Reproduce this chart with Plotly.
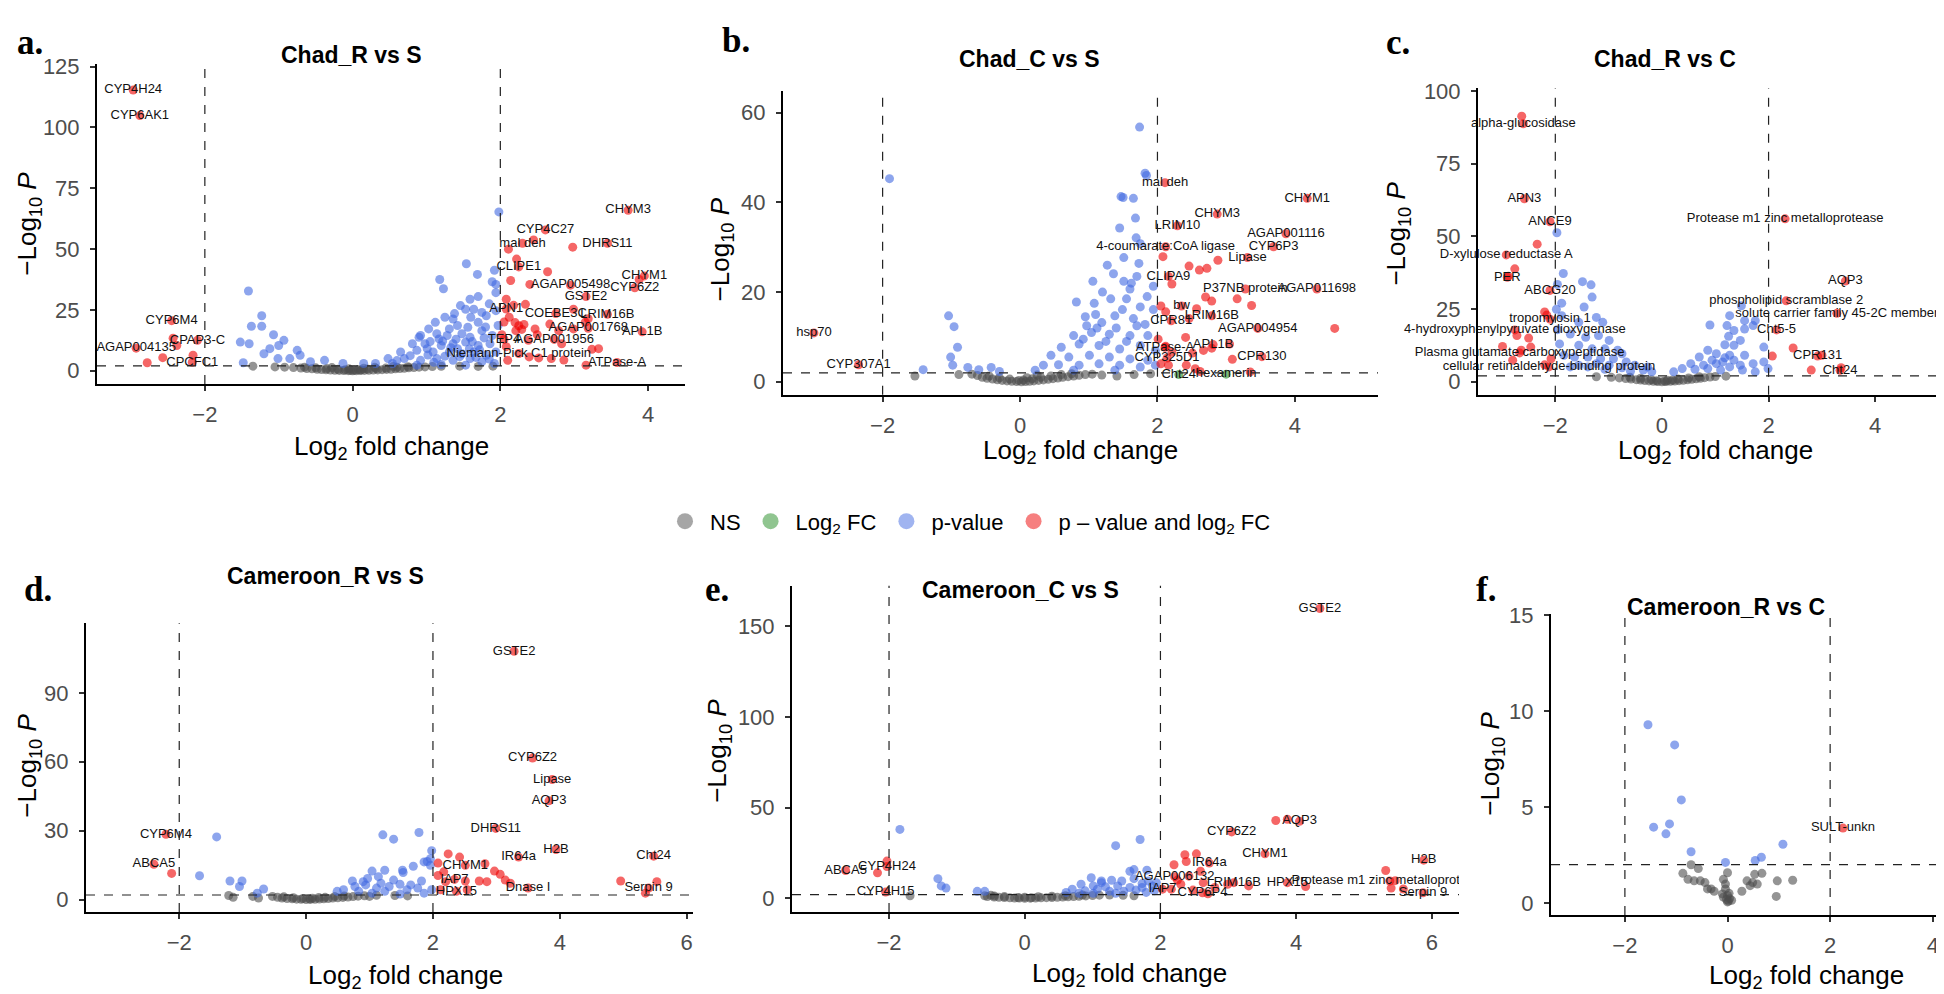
import plotly.graph_objects as go

W, H = 1944, 994
FC_CUT = 2.0   # |log2 fold change| cutoff
P_CUT = 2.0    # -log10 p cutoff

# ---------------- Panel a : Chad_R vs S ----------------
A_GENE = ["CYP4H24", "CYP6AK1", "CYP6M4", "CPAP3-C", "AGAP004135", "CPCFC1", "CHYM3", "CYP4C27",
          "mal deh", "DHRS11", "CLIPE1", "AGAP005498", "CYP6Z2", "CHYM1", "GSTE2", "APN1", "COEBE3C",
          "LRIM16B", "AGAP001768", "APL1B", "TEP4", "AGAP001956", "Niemann-Pick C1 protein", "ATPase-A"]
A_GENE_X = [-2.97, -2.88, -2.45, -2.10, -2.93, -2.17, 3.73, 2.61, 2.30, 3.45, 2.25, 2.95, 3.82, 3.95,
            3.16, 2.08, 2.75, 3.45, 3.19, 3.92, 2.05, 2.73, 2.25, 3.58]
A_GENE_Y = [115.4, 104.9, 20.6, 12.5, 9.3, 3.5, 66.0, 57.9, 52.4, 52.4, 42.7, 35.2, 34.1, 39.0,
            30.5, 25.4, 23.5, 23.2, 17.5, 16.0, 12.9, 12.9, 7.1, 3.4]
A_PTS = [(-2.43, 13.4), (-2.38, 10.4), (-2.57, 5.4), (-2.78, 3.3), (-2.16, 6.4), (2.45, 53.8), (2.11, 50.0),
         (2.98, 50.8), (2.22, 45.9), (2.64, 40.7), (2.14, 37.1), (2.40, 35.5), (3.88, 37.5), (2.08, 29.4),
         (2.18, 26.9), (2.34, 27.3), (2.20, 19.8), (2.25, 18.5), (2.32, 19.0), (2.21, 16.5), (2.29, 17.0),
         (2.67, 19.2), (2.79, 16.5), (2.99, 17.2), (3.15, 20.0), (3.19, 21.4), (2.02, 14.8), (2.50, 14.8),
         (2.38, 12.5), (2.08, 9.9), (2.39, 5.7), (2.52, 5.3), (2.10, 4.3), (2.86, 4.4), (3.24, 8.8),
         (3.33, 9.1), (3.16, 2.3), (2.99, 25.3), (2.47, 17.2), (2.83, 11.1), (2.69, 5.0), (2.05, 20.0),
         (2.12, 22.0),
         (-1.41, 32.8), (-1.37, 18.3), (-1.23, 22.6), (-1.23, 18.3), (-1.52, 11.8), (-1.40, 11.1),
         (-1.07, 14.8), (-0.93, 12.5), (-1.12, 9.1), (-1.20, 7.0), (-1.00, 10.4), (-0.75, 8.4), (-0.71, 6.4),
         (-0.85, 5.0), (-1.48, 3.3), (-0.38, 4.3), (-1.01, 5.0), (-0.57, 3.7), (1.54, 44.0), (1.69, 39.6),
         (1.92, 41.3), (1.18, 37.5), (1.23, 33.7), (1.89, 36.6), (1.94, 35.5), (1.59, 29.4), (1.53, 25.3),
         (1.64, 25.3), (1.75, 24.0), (1.94, 32.1), (1.94, 24.7), (1.25, 22.0), (1.12, 19.9), (1.36, 21.3),
         (1.42, 18.6), (1.31, 17.2), (1.70, 19.9), (1.81, 22.6), (1.03, 17.2), (0.92, 14.5), (1.14, 15.2),
         (1.28, 14.5), (1.48, 15.2), (1.59, 13.8), (1.75, 16.5), (1.89, 14.5), (0.81, 11.1), (0.98, 11.1),
         (1.20, 10.4), (1.36, 11.1), (1.53, 11.8), (1.70, 10.4), (1.86, 11.1), (0.65, 7.7), (0.87, 8.4),
         (1.09, 7.7), (1.31, 7.7), (1.48, 7.0), (1.64, 7.7), (1.81, 6.4), (1.94, 7.7), (0.48, 5.0),
         (0.70, 5.0), (0.92, 4.3), (1.14, 5.0), (1.36, 4.3), (1.59, 5.0), (1.75, 3.7), (1.92, 3.0),
         (0.31, 3.0), (0.54, 3.0), (0.87, 2.3), (1.20, 2.6), (1.53, 2.3), (1.01, 9.1), (1.42, 9.1),
         (1.17, 13.1), (1.56, 17.9), (0.90, 13.8), (1.97, 18.6), (1.98, 65.3), (0.15, 3.0), (-0.13, 3.0),
         (1.05, 12.0), (1.22, 12.2), (1.40, 13.0), (1.62, 12.0), (1.78, 13.5), (1.33, 9.5), (1.58, 9.0),
         (1.72, 8.6), (1.02, 6.5), (1.25, 6.0), (1.45, 5.8), (1.67, 5.5), (0.78, 6.2), (0.60, 4.2),
         (1.10, 3.5), (1.85, 4.8), (1.46, 26.8), (1.38, 23.5), (1.60, 22.0), (1.85, 27.5), (1.70, 30.5),
         (1.80, 18.0),
         (-1.35, 1.9), (-1.05, 1.6), (-0.92, 1.5), (-0.80, 1.3), (-0.70, 1.1), (-0.62, 0.9), (-0.55, 0.8),
         (-0.48, 0.6), (-0.42, 0.5), (-0.36, 0.4), (-0.30, 0.3), (-0.24, 0.2), (-0.18, 0.15), (-0.12, 0.1),
         (-0.06, 0.05), (0.0, 0.0), (0.05, 0.05), (0.10, 0.1), (0.16, 0.15), (0.22, 0.2), (0.28, 0.3),
         (0.34, 0.35), (0.40, 0.45), (0.46, 0.55), (0.52, 0.65), (0.58, 0.8), (0.64, 0.9), (0.70, 1.05),
         (0.76, 1.2), (0.83, 1.35), (0.90, 1.5), (0.98, 1.6), (1.08, 1.75), (1.20, 1.85), (1.45, 1.9),
         (1.70, 1.8), (1.90, 1.9), (-0.20, 0.6), (-0.10, 0.4), (0.08, 0.5), (0.20, 0.7), (0.32, 0.9),
         (0.45, 1.1), (0.60, 1.4), (0.75, 1.7), (-0.35, 0.9), (-0.50, 1.2), (-0.65, 1.5), (0.15, 1.0),
         (-0.05, 0.8), (0.30, 1.4), (0.55, 1.8), (-0.28, 1.3), (0.02, 0.25), (-0.03, 0.15), (0.12, 0.35)]

# ---------------- Panel b : Chad_C vs S ----------------
B_GENE = ["hsp70", "CYP307A1", "mal deh", "CHYM3", "LRIM10", "CHYM1", "AGAP001116", "CYP6P3",
          "4-coumarate:CoA ligase", "Lipase", "CLIPA9", "AGAP011698", "P37NB protein", "bw", "CPR81",
          "LRIM16B", "AGAP004954", "APL1B", "ATPase-A", "CYP325D1", "CPR130", "Cht24", "hexamerin"]
B_GENE_X = [-3.00, -2.35, 2.11, 2.87, 2.29, 4.18, 3.87, 3.69, 2.12, 3.31, 2.16, 4.32, 3.28, 2.35, 2.20,
            2.79, 3.46, 2.81, 2.11, 2.14, 3.52, 2.31, 3.00]
B_GENE_Y = [10.9, 3.8, 44.4, 37.4, 34.8, 40.9, 33.0, 30.1, 30.1, 27.7, 23.5, 20.7, 20.7, 16.9, 13.6,
            14.7, 11.9, 8.3, 7.7, 5.3, 5.6, 1.6, 1.7]
B_PTS = [(2.08, 27.9), (2.46, 25.8), (2.61, 24.9), (2.72, 25.3), (2.88, 27.1), (2.21, 21.8), (2.70, 18.9),
         (2.79, 18.0), (3.16, 18.5), (3.37, 17.0), (2.57, 16.3), (2.05, 16.9), (2.12, 15.6), (2.46, 14.1),
         (4.58, 11.9), (2.01, 9.5), (2.41, 9.9), (2.67, 7.0), (2.79, 7.5), (3.05, 8.4), (2.12, 7.9),
         (2.21, 6.6), (2.51, 6.4), (3.09, 5.0), (2.05, 4.0), (2.16, 3.7), (2.42, 3.7), (2.55, 2.9),
         (3.35, 2.2), (2.62, 2.3),
         (-1.90, 45.3), (-1.04, 14.7), (-0.96, 12.3), (-0.91, 7.7), (-1.01, 5.5), (-0.98, 3.7), (-1.41, 2.7),
         (-0.76, 3.2), (-0.60, 2.7), (-0.42, 3.2), (-0.30, 2.3), (1.74, 56.8), (1.82, 46.5), (1.47, 41.3),
         (1.84, 46.0), (1.50, 41.1), (1.65, 40.9), (1.68, 36.5), (1.45, 34.3), (1.69, 32.1), (1.75, 30.8),
         (1.51, 27.7), (1.73, 26.4), (1.27, 26.0), (1.36, 24.1), (1.06, 22.4), (1.51, 22.4), (1.62, 22.0),
         (1.60, 20.7), (1.94, 21.3), (0.82, 17.8), (1.08, 17.5), (1.32, 18.5), (1.49, 16.1), (1.75, 16.7),
         (1.94, 16.1), (1.38, 14.7), (1.65, 14.1), (1.19, 13.2), (0.97, 12.5), (1.82, 12.8), (0.78, 10.3),
         (1.04, 11.0), (1.30, 10.6), (1.60, 10.3), (1.86, 10.3), (0.60, 7.7), (0.86, 8.4), (1.15, 8.1),
         (1.45, 7.3), (1.75, 8.1), (1.97, 7.0), (0.45, 5.9), (0.71, 5.5), (1.01, 5.9), (1.30, 5.5),
         (1.60, 5.1), (1.86, 4.8), (0.34, 3.7), (0.56, 3.8), (0.86, 3.7), (1.15, 4.0), (1.45, 3.7),
         (1.75, 3.3), (1.97, 3.7), (0.22, 2.6), (0.78, 2.6), (1.38, 2.6), (1.12, 12.0), (1.25, 9.0),
         (1.40, 12.0), (1.55, 9.0), (1.70, 12.5), (0.92, 9.5), (1.10, 15.0), (1.55, 18.5), (1.85, 19.0),
         (1.20, 20.0), (0.95, 14.5), (1.70, 23.5),
         (-1.53, 1.3), (-0.89, 1.6), (-0.62, 1.4), (-0.55, 1.0), (-0.48, 0.8), (-0.40, 0.6), (-0.33, 0.45),
         (-0.26, 0.3), (-0.19, 0.2), (-0.12, 0.1), (-0.05, 0.05), (0.02, 0.0), (0.08, 0.05), (0.14, 0.12),
         (0.20, 0.2), (0.27, 0.3), (0.34, 0.42), (0.41, 0.55), (0.48, 0.7), (0.55, 0.85), (0.62, 1.0),
         (0.70, 1.15), (0.78, 1.3), (0.86, 1.45), (0.95, 1.6), (1.05, 1.7), (1.19, 1.5), (1.41, 1.3),
         (1.66, 1.6), (1.90, 1.8), (-0.30, 0.9), (-0.15, 0.6), (0.05, 0.4), (0.18, 0.7), (0.30, 1.0),
         (0.45, 1.3), (0.60, 1.6), (-0.45, 1.3), (-0.70, 1.7), (0.10, 0.9), (-0.02, 0.3), (0.25, 1.5),
         (0.75, 1.8)]

# ---------------- Panel c : Chad_R vs C ----------------
C_GENE = ["alpha-glucosidase", "APN3", "ANCE9", "D-xylulose reductase A", "PER", "ABCG20", "tropomyosin 1",
          "4-hydroxyphenylpyruvate dioxygenase", "Plasma glutamate carboxypeptidase",
          "cellular retinaldehyde-binding protein", "Protease m1 zinc metalloprotease", "AQP3",
          "phospholipid scramblase 2", "solute carrier family 45-2C member", "Cht5-5", "CPR131", "Cht24"]
C_GENE_X = [-2.60, -2.58, -2.10, -2.92, -2.90, -2.10, -2.10, -2.76, -2.67, -2.12, 2.31, 3.44, 2.33, 3.28,
            2.15, 2.92, 3.34]
C_GENE_Y = [88.7, 62.9, 55.0, 43.6, 35.9, 31.4, 21.5, 17.8, 9.9, 5.1, 56.0, 34.6, 27.8, 23.5, 17.8, 8.8, 3.9]
C_PTS = [(-2.63, 91.3), (-2.34, 47.3), (-2.76, 38.8), (-2.88, 36.3), (-2.16, 22.9), (-2.72, 15.9),
         (-2.50, 15.0), (-2.99, 12.1), (-2.46, 11.9), (-2.64, 10.8), (-2.80, 7.4), (-2.08, 7.9), (-2.20, 5.8),
         (-2.20, 24.0), (2.46, 11.6), (2.07, 8.8), (2.80, 4.0), (3.00, 9.1), (3.36, 4.8),
         (-1.97, 51.2), (-1.85, 37.2), (-1.96, 33.4), (-1.49, 34.4), (-1.33, 33.3), (-1.31, 29.1),
         (-1.88, 27.0), (-1.46, 25.7), (-1.23, 22.1), (-1.98, 24.9), (-1.88, 22.7), (-1.56, 20.4),
         (-1.11, 20.4), (-1.96, 17.9), (-1.72, 16.4), (-1.43, 15.3), (-1.19, 15.9), (-0.99, 14.2),
         (-1.92, 13.0), (-1.56, 12.5), (-1.31, 11.3), (-1.07, 11.3), (-0.83, 10.8), (-0.75, 9.6),
         (-1.84, 9.1), (-1.64, 8.5), (-1.39, 8.5), (-1.15, 7.9), (-0.91, 7.9), (-0.67, 6.8), (-0.51, 5.7),
         (-0.27, 5.1), (-1.56, 5.7), (-1.23, 6.2), (-0.99, 5.7), (-1.39, 5.1), (-1.72, 5.1), (-0.35, 4.0),
         (-0.75, 4.8), (-1.07, 4.3), (-0.59, 3.6), (-0.19, 3.4),
         (1.49, 26.1), (1.27, 22.7), (1.55, 21.0), (1.75, 21.0), (0.90, 19.5), (1.22, 19.3), (1.55, 18.1),
         (1.71, 19.3), (1.35, 17.6), (1.25, 15.6), (1.47, 14.2), (1.18, 12.7), (1.35, 12.5), (1.91, 11.9),
         (0.86, 10.8), (1.02, 9.6), (1.27, 9.1), (1.55, 9.1), (1.18, 8.2), (1.71, 6.2), (1.99, 4.5),
         (0.70, 8.5), (0.94, 7.4), (1.14, 6.8), (1.35, 7.4), (0.54, 6.2), (0.78, 5.7), (1.02, 6.2),
         (1.27, 5.1), (1.47, 5.7), (0.38, 4.5), (0.62, 4.3), (0.86, 4.5), (1.10, 4.0), (1.75, 3.4),
         (1.91, 6.8), (0.22, 3.4), (1.51, 4.0),
         (-1.23, 1.7), (-0.95, 1.5), (-0.80, 1.3), (-0.68, 1.1), (-0.58, 0.9), (-0.48, 0.7), (-0.40, 0.55),
         (-0.32, 0.4), (-0.24, 0.28), (-0.16, 0.15), (-0.08, 0.06), (0.0, 0.0), (0.08, 0.05), (0.16, 0.12),
         (0.24, 0.22), (0.32, 0.35), (0.40, 0.5), (0.48, 0.65), (0.56, 0.82), (0.64, 1.0), (0.72, 1.2),
         (0.80, 1.4), (0.90, 1.6), (1.0, 1.8), (1.2, 1.9), (-0.2, 0.7), (0.1, 0.5), (0.3, 0.9), (-0.4, 1.2),
         (0.5, 1.3), (-0.1, 0.35), (0.05, 0.2), (0.2, 0.6), (-0.6, 1.5), (0.7, 1.7)]

# ---------------- Panel d : Cameroon_R vs S ----------------
D_GENE = ["GSTE2", "CYP6Z2", "Lipase", "AQP3", "DHRS11", "CYP6M4", "ABCA5", "H2B", "IR64a", "Cht24",
          "CHYM1", "IAP7", "HPX15", "Dnase I", "Serpin 9"]
D_GENE_X = [3.28, 3.57, 3.88, 3.83, 2.99, -2.21, -2.40, 3.94, 3.35, 5.48, 2.51, 2.34, 2.37, 3.50, 5.40]
D_GENE_Y = [108.1, 61.6, 52.3, 43.0, 31.0, 28.4, 15.4, 21.8, 18.5, 18.9, 14.9, 8.8, 3.6, 5.0, 5.0]
D_PTS = [(-2.12, 11.4), (2.24, 19.9), (2.42, 18.5), (2.08, 15.9), (2.17, 12.1), (2.82, 15.6), (2.97, 12.4),
         (3.06, 11.0), (3.14, 8.5), (2.73, 8.1), (2.85, 7.8), (2.51, 8.1), (2.20, 7.8), (3.22, 7.1),
         (4.96, 8.1), (5.53, 7.8), (2.12, 4.3), (2.54, 4.3), (5.35, 2.8), (2.08, 10.5),
         (-1.41, 27.3), (-1.68, 10.4), (-1.20, 8.1), (-1.01, 8.1), (-1.05, 5.7), (-0.67, 4.6), (-0.77, 2.8),
         (1.21, 28.2), (1.38, 26.3), (1.78, 29.2), (1.98, 21.3), (1.91, 16.6), (1.96, 14.9), (1.69, 14.5),
         (1.52, 12.8), (1.53, 11.8), (1.24, 12.8), (1.04, 12.4), (1.14, 10.0), (0.97, 9.2), (0.90, 7.8),
         (0.73, 8.1), (0.77, 5.7), (0.94, 6.4), (1.11, 5.0), (1.31, 5.7), (1.48, 6.7), (1.65, 6.4),
         (1.82, 8.1), (1.76, 5.0), (1.59, 4.3), (1.38, 8.5), (1.18, 7.1), (0.59, 4.3), (0.49, 3.6),
         (0.83, 3.6), (1.04, 2.8), (1.24, 3.6), (1.48, 2.4), (1.86, 2.8), (1.98, 4.3), (1.86, 16.4),
         (1.96, 17.8),
         (-1.22, 1.8), (-1.15, 1.0), (-0.84, 1.4), (-0.75, 0.7), (-0.53, 1.4), (-0.45, 1.0), (-0.38, 0.7),
         (-0.30, 0.5), (-0.22, 0.35), (-0.15, 0.2), (-0.08, 0.1), (0.0, 0.0), (0.07, 0.08), (0.14, 0.15),
         (0.21, 0.25), (0.28, 0.35), (0.35, 0.5), (0.42, 0.65), (0.50, 0.8), (0.58, 0.95), (0.66, 1.1),
         (0.74, 1.3), (0.82, 1.5), (0.92, 1.7), (1.11, 1.9), (-0.2, 0.8), (0.1, 0.6), (0.3, 1.0),
         (0.45, 1.3), (-0.35, 1.2), (0.05, 0.3), (-0.05, 0.45), (0.2, 0.9), (0.6, 1.6), (1.0, 1.4),
         (1.4, 1.8), (1.6, 1.6)]

# ---------------- Panel e : Cameroon_C vs S ----------------
E_GENE = ["GSTE2", "AQP3", "CYP6Z2", "CHYM1", "IR64a", "AGAP006132", "IAP7", "CYP6P4", "LRIM16B", "HPX15",
          "ABCA5", "CYP4H24", "CYP4H15", "H2B", "Protease m1 zinc metalloprotease", "Serpin 9"]
E_GENE_X = [4.35, 4.05, 3.05, 3.54, 2.72, 2.21, 2.03, 2.62, 3.08, 3.87, -2.64, -2.03, -2.05, 5.88, 5.38, 5.87]
E_GENE_Y = [159.9, 42.5, 36.6, 24.5, 19.4, 11.9, 5.0, 3.0, 8.6, 8.6, 15.3, 17.5, 3.4, 21.0, 9.5, 3.0]
E_PTS = [(3.70, 42.9), (3.87, 43.6), (2.36, 24.0), (2.53, 24.5), (2.38, 20.3), (2.20, 18.5), (2.59, 14.9),
         (2.42, 12.2), (2.30, 7.7), (2.63, 8.6), (2.80, 5.9), (2.16, 5.0), (2.48, 4.5), (2.99, 7.7),
         (3.30, 6.8), (4.14, 6.5), (5.32, 15.3), (5.46, 9.7), (5.40, 5.6), (5.58, 5.1), (-2.17, 14.0),
         (-2.03, 20.5), (2.70, 2.5), (2.25, 10.0),
         (-1.84, 38.0), (-1.28, 10.8), (-1.23, 6.8), (-1.16, 5.6), (-0.70, 3.8), (-0.59, 3.8), (1.70, 32.4),
         (1.34, 29.0), (1.61, 15.8), (1.80, 15.5), (1.55, 14.9), (1.61, 10.8), (0.98, 11.3), (1.13, 9.5),
         (1.28, 9.9), (1.43, 9.5), (1.82, 9.5), (1.94, 8.6), (0.83, 7.7), (1.01, 6.8), (1.19, 6.3),
         (1.37, 6.8), (1.55, 5.9), (1.73, 5.9), (1.88, 6.8), (0.70, 5.0), (0.89, 4.1), (1.07, 5.0),
         (1.25, 3.8), (1.46, 3.8), (1.64, 4.5), (1.79, 3.2), (0.61, 3.2), (0.80, 2.7), (1.01, 2.7),
         (1.34, 2.7), (1.91, 4.1), (1.73, 8.1), (1.13, 8.6),
         (-1.69, 1.4), (-0.59, 1.4), (-0.55, 0.9), (-0.50, 1.6), (-0.45, 0.7), (-0.38, 0.5), (-0.30, 0.35),
         (-0.22, 0.25), (-0.15, 0.15), (-0.08, 0.08), (0.0, 0.0), (0.08, 0.05), (0.16, 0.12), (0.24, 0.2),
         (0.32, 0.3), (0.40, 0.4), (0.48, 0.5), (0.56, 0.65), (0.64, 0.8), (0.72, 0.95), (0.80, 1.1),
         (0.90, 1.3), (1.0, 1.5), (1.1, 1.7), (1.25, 1.8), (1.45, 1.6), (1.61, 1.4), (-0.3, 0.9), (0.0, 0.6),
         (0.2, 0.8), (0.4, 1.1), (0.6, 1.4), (-0.1, 0.4), (0.1, 0.3), (-0.45, 1.3), (0.85, 1.8)]

# ---------------- Panel f : Cameroon_R vs C ----------------
F_GENE = ["SULT-unkn"]
F_GENE_X = [2.25]
F_GENE_Y = [3.9]
F_PTS = [(-1.55, 9.29), (-1.03, 8.24), (-0.90, 5.37), (-1.44, 3.95), (-1.13, 4.12), (-1.20, 3.60),
         (-0.71, 2.67), (-0.04, 2.11), (0.54, 2.21), (0.66, 2.38), (1.08, 3.06),
         (-0.71, 1.99), (-0.57, 1.79), (-0.87, 1.54), (-0.77, 1.23), (-0.53, 1.15), (-0.44, 1.06),
         (-0.39, 0.73), (-0.26, 0.61), (-0.10, 0.47), (0.0, 1.57), (-0.08, 1.23), (-0.04, 0.98),
         (-0.04, 0.73), (0.0, 0.39), (0.04, 0.22), (0.0, 0.05), (0.08, 0.14), (-0.08, 0.3), (0.38, 1.15),
         (0.53, 1.49), (0.67, 1.54), (0.58, 0.98), (0.44, 0.90), (0.28, 0.61), (0.97, 1.15), (1.27, 1.18),
         (0.95, 0.34), (0.49, 1.06), (-0.32, 0.73), (-0.65, 1.15), (0.02, 0.1), (-0.02, 0.18), (0.03, 0.5)]

# ---------------- styling ----------------
SANS = "Liberation Sans, Arial, sans-serif"
NARROW = "Liberation Sans Narrow, Arial Narrow, Liberation Sans, sans-serif"
SERIF = "Liberation Serif, Times New Roman, serif"
CATS = [("NS", "NS", "#4D4D4D"),
        ("FC", "Log<sub>2</sub> FC", "#228B22"),
        ("P", "p-value", "#4169E1"),
        ("PFC", "p \u2013 value and log<sub>2</sub> FC", "#EE0000")]
ALPHA = 0.6

PANELS = [
    dict(pts=A_PTS, genes=A_GENE, gx=A_GENE_X, gy=A_GENE_Y, title="Chad_R vs S", letter="a.", clip=False,
         box=(89, 677, 45, 369), xr=(-3.46, 4.5), yr=(-5.4, 126.3), xt=[-2, 0, 2, 4],
         yt=[0, 25, 50, 75, 100, 125], tpos=(343, 36), lpos=(22, 24), xl=(383, 433), yl=(21, 207)),
    dict(pts=B_PTS, genes=B_GENE, gx=B_GENE_X, gy=B_GENE_Y, title="Chad_C vs S", letter="b.", clip=False,
         box=(775, 1370, 73, 380), xr=(-3.45, 5.21), yr=(-2.9, 64.8), xt=[-2, 0, 2, 4],
         yt=[0, 20, 40, 60], tpos=(1021, 40), lpos=(728, 22), xl=(1072, 437), yl=(713, 233)),
    dict(pts=C_PTS, genes=C_GENE, gx=C_GENE_X, gy=C_GENE_Y, title="Chad_R vs C", letter="c.", clip=False,
         box=(1470, 1944, 70, 380), xr=(-3.45, 5.44), yr=(-4.5, 100.9), xt=[-2, 0, 2, 4],
         yt=[0, 25, 50, 75, 100], tpos=(1657, 40), lpos=(1390, 24), xl=(1707, 437), yl=(1390, 217)),
    dict(pts=D_PTS, genes=D_GENE, gx=D_GENE_X, gy=D_GENE_Y, title="Cameroon_R vs S", letter="d.", clip=False,
         box=(78, 685, 611, 903), xr=(-3.47, 6.1), yr=(-5.4, 120.3), xt=[-2, 0, 2, 4, 6],
         yt=[0, 30, 60, 90], tpos=(317, 563), lpos=(30, 577), xl=(397, 968), yl=(21, 755)),
    dict(pts=E_PTS, genes=E_GENE, gx=E_GENE_X, gy=E_GENE_Y, title="Cameroon_C vs S", letter="e.", clip=True,
         box=(784, 1451, 573, 903), xr=(-3.43, 6.4), yr=(-7.6, 172.5), xt=[-2, 0, 2, 4, 6],
         yt=[0, 50, 100, 150], tpos=(1013, 577), lpos=(709, 577), xl=(1121, 966), yl=(711, 740)),
    dict(pts=F_PTS, genes=F_GENE, gx=F_GENE_X, gy=F_GENE_Y, title="Cameroon_R vs C", letter="f.", clip=False,
         box=(1543, 1934, 602, 906), xr=(-3.44, 4.18), yr=(-0.63, 15.05), xt=[-2, 0, 2, 4],
         yt=[0, 5, 10, 15], tpos=(1718, 595), lpos=(1478, 577), xl=(1798, 968), yl=(1484, 753)),
]


def classify(x, y):
    sig_p = y >= P_CUT
    sig_fc = abs(x) >= FC_CUT
    if sig_p and sig_fc:
        return "PFC"
    if sig_p:
        return "P"
    if sig_fc:
        return "FC"
    return "NS"


def px(x):
    return x / W


def py(y):
    return 1 - y / H


fig = go.Figure()
annotations = []
shapes = []
layout = {}

for i, p in enumerate(PANELS, start=1):
    xa = "x" if i == 1 else f"x{i}"
    ya = "y" if i == 1 else f"y{i}"
    xs = [q[0] for q in p["pts"]] + list(p["gx"])
    ys = [q[1] for q in p["pts"]] + list(p["gy"])
    groups = {c[0]: ([], []) for c in CATS}
    for x, y in zip(xs, ys):
        g = classify(x, y)
        groups[g][0].append(x)
        groups[g][1].append(y)
    for key, name, col in CATS:
        gx, gy = groups[key]
        if not gx:
            continue
        fig.add_trace(go.Scatter(x=gx, y=gy, mode="markers", xaxis=xa, yaxis=ya, showlegend=False,
                                 legendgroup=key, hoverinfo="skip",
                                 marker=dict(size=9, color=col, opacity=ALPHA, line=dict(width=0))))
    fig.add_trace(go.Scatter(x=p["gx"], y=p["gy"], text=p["genes"], mode="text", xaxis=xa, yaxis=ya,
                             showlegend=False, hoverinfo="skip", cliponaxis=p["clip"],
                             textposition="middle center",
                             textfont=dict(family=NARROW, size=13, color="#111111")))

    x0, x1, y0, y1 = p["box"]
    axkey = "xaxis" if i == 1 else f"xaxis{i}"
    aykey = "yaxis" if i == 1 else f"yaxis{i}"
    common = dict(showgrid=False, zeroline=False, showline=True, linecolor="black", linewidth=2,
                  ticks="outside", ticklen=5, tickwidth=1.5, tickcolor="#333333",
                  tickfont=dict(family=SANS, size=22, color="#4D4D4D"))
    layout[axkey] = dict(domain=[px(x0), px(x1)], range=list(p["xr"]), anchor=ya, tickvals=p["xt"],
                         ticklabelstandoff=5, **common)
    layout[aykey] = dict(domain=[py(y1), py(y0)], range=list(p["yr"]), anchor=xa, tickvals=p["yt"],
                         ticklabelstandoff=6, **common)

    dash = dict(color="#222222", width=1.2, dash="dash")
    for v in (-FC_CUT, FC_CUT):
        shapes.append(dict(type="line", xref=xa, yref=f"{ya} domain", x0=v, x1=v, y0=0, y1=1, line=dash))
    shapes.append(dict(type="line", xref=f"{xa} domain", yref=ya, x0=0, x1=1, y0=P_CUT, y1=P_CUT, line=dash))

    annotations.append(dict(text=f"<b>{p['title']}</b>", x=px(p["tpos"][0]), y=py(p["tpos"][1]),
                            xref="paper", yref="paper", showarrow=False, xanchor="center", yanchor="middle",
                            font=dict(family=SANS, size=23, color="black")))
    annotations.append(dict(text=f"<b>{p['letter']}</b>", x=px(p["lpos"][0]), y=py(p["lpos"][1]),
                            xref="paper", yref="paper", showarrow=False, xanchor="center", yanchor="middle",
                            font=dict(family=SERIF, size=35, color="black")))
    annotations.append(dict(text="Log<sub>2</sub> fold change", x=px(p["xl"][0]), y=py(p["xl"][1]),
                            xref="paper", yref="paper", showarrow=False, xanchor="center", yanchor="middle",
                            font=dict(family=SANS, size=26, color="black")))
    annotations.append(dict(text="\u2212Log<sub>10</sub> <i>P</i>", x=px(p["yl"][0]), y=py(p["yl"][1]),
                            xref="paper", yref="paper", showarrow=False, xanchor="center", yanchor="middle",
                            textangle=-90, font=dict(family=SANS, size=26, color="black")))

# legend entries
for key, name, col in CATS:
    fig.add_trace(go.Scatter(x=[None], y=[None], mode="markers", name=name, legendgroup=key,
                             marker=dict(size=16, color=col, opacity=0.5), showlegend=True))

fig.update_layout(
    width=W, height=H, margin=dict(l=0, r=0, t=0, b=0),
    paper_bgcolor="white", plot_bgcolor="white",
    shapes=shapes, annotations=annotations,
    legend=dict(orientation="h", x=px(960), xanchor="center", y=py(508), yanchor="middle",
                font=dict(family=SANS, size=22, color="black"), itemsizing="trace",
                bgcolor="rgba(0,0,0,0)", itemwidth=40),
    **layout,
)

fig.write_html("out.html")
